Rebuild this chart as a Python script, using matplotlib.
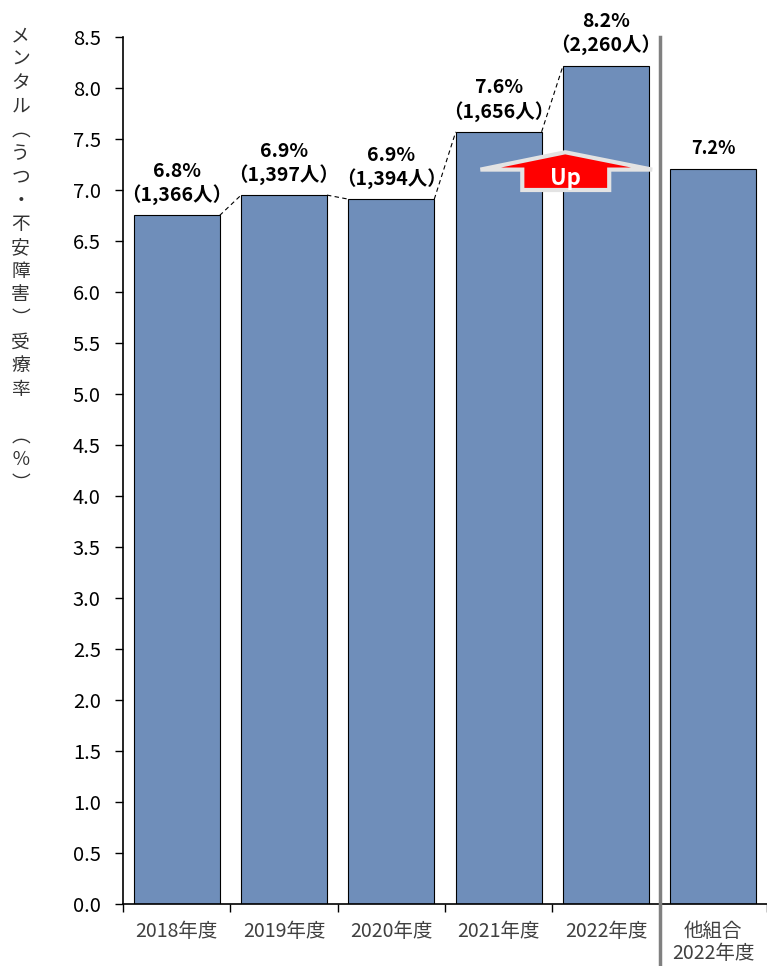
import matplotlib.pyplot as plt
from matplotlib.patches import Polygon

plt.rcParams['font.family'] = ['Noto Sans CJK JP', 'DejaVu Sans']

# データ
categories = ['2018年度', '2019年度', '2020年度', '2021年度', '2022年度', '他組合\n2022年度']
rates = [6.75, 6.95, 6.91, 7.57, 8.22, 7.21]
rate_labels = ['6.8%', '6.9%', '6.9%', '7.6%', '8.2%', '7.2%']
persons = ['（1,366人）', '（1,397人）', '（1,394人）', '（1,656人）', '（2,260人）', None]
ylabel_chars = list('メンタル︵うつ・不安障害︶受療率') + ['\u3000'] + list('︵％︶')

bar_color = '#6F8EBA'
bar_w = 0.8

fig = plt.figure(figsize=(7.67, 9.66), dpi=100)
ax = fig.add_axes([0.1604, 0.0642, 0.8396, 0.8975])

x = range(len(categories))
ax.bar(x, rates, width=bar_w, color=bar_color, edgecolor='black', linewidth=0.8, zorder=2)

ax.set_xlim(-0.5, len(categories) - 0.5)
ax.set_ylim(0, 8.5)
ax.set_yticks([i * 0.5 for i in range(18)])
ax.set_yticklabels([f'{i * 0.5:.1f}' for i in range(18)], fontsize=14.5)
ax.tick_params(axis='y', direction='out', length=6, width=1, pad=10)

# x軸: 区切りに目盛り、ラベルは棒の中央
ax.set_xticks(list(x))
ax.set_xticklabels(categories, fontsize=14, color='#404040', linespacing=1.1, va='top')
ax.tick_params(axis='x', which='major', length=0, pad=12)
ax.set_xticks([i - 0.5 for i in range(len(categories) + 1)], minor=True)
ax.tick_params(axis='x', which='minor', direction='out', length=6, width=1)

for s in ['top', 'right']:
    ax.spines[s].set_visible(False)
ax.spines['left'].set_linewidth(1.2)
ax.spines['bottom'].set_linewidth(1.2)

# 棒の間の点線
for i in range(4):
    ax.plot([i + bar_w / 2, i + 1 - bar_w / 2], [rates[i], rates[i + 1]],
            color='black', lw=0.8, ls=(0, (4, 3)), zorder=3)

# ラベル
for i, (r, lab, p) in enumerate(zip(rates, rate_labels, persons)):
    if p is None:
        ax.text(i, r + 0.1, lab, ha='center', va='bottom', fontsize=13, fontweight='bold')
    else:
        ax.text(i, r + 0.1, lab + '\n' + p, ha='center', va='bottom', fontsize=14,
                fontweight='bold', linespacing=1.2)

# 区切り線
ax.plot([4.5, 4.5], [8.5, -0.62], color='#808080', lw=2.5, clip_on=False, zorder=4)

# Up 矢印
ax_c = 3.62
arrow = Polygon([(ax_c - 0.79, 7.2), (ax_c, 7.37), (ax_c + 0.81, 7.2), (ax_c + 0.41, 7.2),
                 (ax_c + 0.41, 7.0), (ax_c - 0.40, 7.0), (ax_c - 0.40, 7.2)],
                closed=True, facecolor='red', edgecolor='#e3e3e3', lw=3, zorder=5)
ax.add_patch(arrow)
ax.text(ax_c, 7.11, 'Up', color='white', fontsize=16, fontweight='bold',
        ha='center', va='center', zorder=6)

# 縦書きの軸ラベル
fig.text(0.027, 0.974, '\n'.join(ylabel_chars), ha='center', va='top', fontsize=13.5,
         linespacing=1.16, color='#333333')

fig.savefig('out.png', dpi=100)
